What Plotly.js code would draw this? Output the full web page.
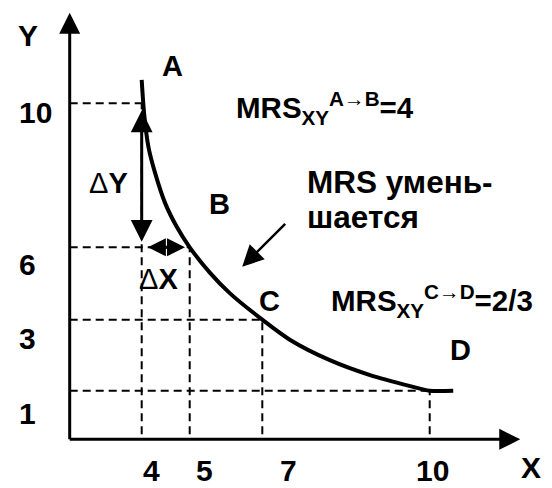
<!DOCTYPE html>
<html><head><meta charset="utf-8">
<script src="https://cdn.plot.ly/plotly-3.0.1.min.js"></script>
<style>html,body{margin:0;padding:0;background:#fff}</style>
</head><body><div id="chart" style="width:552px;height:488px"></div>
<script>
// ---------- data ----------
const pointLabels = ['A', 'B', 'C', 'D'];
const pointX = [4, 5, 7, 10];
const pointY = [10, 6, 3, 1];
// indifference curve
const curveX = [4.0, 4.05, 4.14, 4.28, 4.49, 4.73, 5, 5.56, 6.11, 7, 7.50, 8.21, 8.93, 9.65, 10, 10.42];
const curveY = [10.65, 9.72, 8.79, 8.06, 7.22, 6.57, 6, 4.94, 4.09, 3, 2.43, 1.86, 1.44, 1.13, 1, 1];
const xTickVals = [4, 5, 7, 10];
const xTickText = ['4', '5', '7', '10'];
const yTickVals = [1, 3, 6, 10];
const yTickText = ['1', '3', '6', '10'];
const mrsAB = '4';
const mrsCD = '2/3';

// ---------- schematic (non-uniform) axis spacing: layout only ----------
const xKnotV = [0, 4, 5, 7, 10, 12], xKnotP = [0, 72, 120, 192.6, 360, 472];
const yKnotV = [0, 1, 3, 6, 10, 12], yKnotP = [0, 48.6, 119.6, 192, 336, 408];
function interp(v, kv, kp) {
  for (let i = 1; i < kv.length; i++) {
    if (v <= kv[i] || i === kv.length - 1) {
      const t = (v - kv[i - 1]) / (kv[i] - kv[i - 1]);
      return kp[i - 1] + t * (kp[i] - kp[i - 1]);
    }
  }
}
const sx = v => interp(v, xKnotV, xKnotP);
const sy = v => interp(v, yKnotV, yKnotP);

const W = 552, H = 488;
const FONT = 'Arial, "Liberation Sans", sans-serif';
const P = (x, y) => ({xref: 'paper', yref: 'paper', x: x / W, y: 1 - y / H});

// label offsets (px) relative to the data point / tick
const pointLabelShift = [[31, 37], [30, 43], [7, 19], [31, 41]];
const yTickShift = [-23, -19, -17, -9];
const xTickShift = [10, 15, 26, 3];

const traces = [{
  type: 'scatter', mode: 'lines',
  x: curveX.map(sx), y: curveY.map(sy),
  line: {color: '#000', width: 4, shape: 'spline', smoothing: 0.8},
  hoverinfo: 'skip'
}];

const dash = {color: '#000', width: 2, dash: '8px,5px'};
const shapes = [];
pointX.forEach((xv, i) => {
  const yv = pointY[i];
  shapes.push({type: 'line', xref: 'x', yref: 'y', x0: 0, y0: sy(yv), x1: sx(xv), y1: sy(yv), line: dash});
  shapes.push({type: 'line', xref: 'x', yref: 'y', x0: sx(xv), y0: 5, x1: sx(xv), y1: sy(yv), line: dash});
});

const annotations = [];
function arrow(x, y, ax, ay, w, size, both) {
  const a = {
    xref: 'x', yref: 'y', axref: 'x', ayref: 'y',
    x: x, y: y, ax: ax, ay: ay, text: '', showarrow: true,
    arrowhead: 2, arrowsize: size, arrowwidth: w, arrowcolor: '#000',
    standoff: 1.3 * size * w
  };
  if (both) {
    a.arrowside = 'end+start';
    a.startarrowhead = 2; a.startarrowsize = size; a.startstandoff = 1.3 * size * w;
  }
  annotations.push(a);
}
// axes
arrow(0, 432, 0, -1.5, 3, 1.4, false);
arrow(456, 0, -1.5, 0, 3, 1.4, false);
// ΔY and ΔX
arrow(sx(pointX[0]), sy(pointY[1]), sx(pointX[0]), sy(pointY[0]), 3, 1.45, true);
arrow(sx(pointX[1]), sy(pointY[1]), sx(pointX[0]), sy(pointY[1]), 3, 1.2, true);
// pointer to curve
annotations.push(Object.assign(P(238.3, 270.7), {
  text: '', showarrow: true, axref: 'pixel', ayref: 'pixel', ax: 48.4, ay: -48.4,
  arrowhead: 2, arrowsize: 1.7, arrowwidth: 2.5, arrowcolor: '#000', standoff: 5.5
}));

function txt(o, text, size, extra) {
  annotations.push(Object.assign({
    text: text, showarrow: false, xanchor: 'center', yanchor: 'middle',
    font: {family: FONT, size: size || 29, color: '#000', weight: 'bold'}
  }, o, extra || {}));
}
// point labels
pointLabels.forEach((l, i) => {
  txt({xref: 'x', yref: 'y', x: sx(pointX[i]), y: sy(pointY[i]), xshift: pointLabelShift[i][0], yshift: pointLabelShift[i][1]}, l);
});
// tick labels
yTickVals.forEach((v, i) => {
  txt({xref: 'paper', yref: 'y', x: 17 / W, y: sy(v), yshift: yTickShift[i]}, yTickText[i], 30, {xanchor: 'left'});
});
xTickVals.forEach((v, i) => {
  txt({xref: 'x', yref: 'paper', x: sx(v), y: 1 - 470 / H, xshift: xTickShift[i]}, xTickText[i], 30);
});
// axis titles
txt(P(28, 36), 'Y', 30);
txt(P(531, 467), 'X', 30);
// delta labels
const N = s => '<span style="font-weight:normal">' + s + '</span>';
txt(P(108, 183), N('Δ') + 'Y');
txt(P(158, 279), N('Δ') + 'X');
// MRS texts
txt(P(234, 108), 'MRS<sub>XY</sub><sup>A' + N('→') + 'B</sup>=' + mrsAB, 29.5, {xanchor: 'left'});
txt(P(329, 301), 'MRS<sub>XY</sub><sup>C' + N('→') + 'D</sup>=' + mrsCD, 29.5, {xanchor: 'left'});
txt(P(305, 182), 'MRS умень-', 31.5, {xanchor: 'left'});
txt(P(305, 217), 'шается', 31.5, {xanchor: 'left'});

const layout = {
  width: W, height: H, margin: {l: 0, r: 0, t: 0, b: 0},
  paper_bgcolor: '#fff', plot_bgcolor: '#fff', showlegend: false,
  xaxis: {range: [-69.7, W - 69.7], visible: false, fixedrange: true},
  yaxis: {range: [-(H - 439.3), 439.3], visible: false, fixedrange: true},
  shapes: shapes, annotations: annotations
};
Plotly.newPlot('chart', traces, layout, {staticPlot: true, displayModeBar: false});
</script></body></html>
